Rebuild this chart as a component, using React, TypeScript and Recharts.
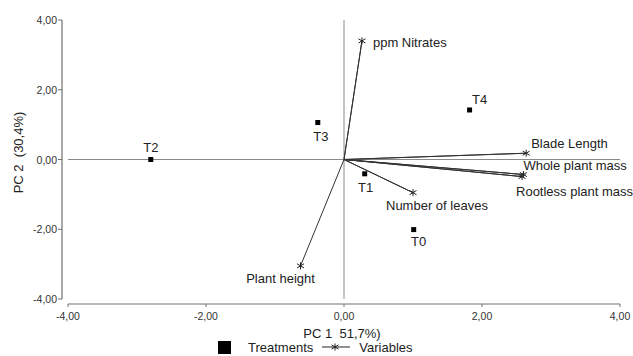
import React from 'react';
import { ScatterChart, Scatter, XAxis, YAxis, ReferenceLine, Legend } from 'recharts';

// PCA scores of the treatments
const treatmentNames = ['T0', 'T1', 'T2', 'T3', 'T4'];
const treatmentPC1 = [1.01, 0.3, -2.8, -0.38, 1.82];
const treatmentPC2 = [-2.01, -0.41, 0.0, 1.06, 1.42];

// PCA loadings of the variables (drawn as vectors from the origin)
const variableNames = [
  'ppm Nitrates',
  'Blade Length',
  'Whole plant mass',
  'Rootless plant mass',
  'Number of leaves',
  'Plant height',
];
const variablePC1 = [0.26, 2.64, 2.6, 2.58, 1.0, -0.63];
const variablePC2 = [3.4, 0.18, -0.43, -0.49, -0.95, -3.05];

const axisTicks = [-4, -2, 0, 2, 4];

// label placement (dx, dy, anchor) relative to each mark
const labelPlacement: Record<string, [number, number, 'start' | 'middle' | 'end']> = {
  T0: [5, 12, 'middle'],
  T1: [1, 14, 'middle'],
  T2: [0, -12, 'middle'],
  T3: [3, 14, 'middle'],
  T4: [10, -10, 'middle'],
  'ppm Nitrates': [11, 2, 'start'],
  'Blade Length': [5, -10, 'start'],
  'Whole plant mass': [0, -9, 'start'],
  'Rootless plant mass': [-6, 15, 'start'],
  'Number of leaves': [-27, 13, 'start'],
  'Plant height': [-20, 13, 'middle'],
};

const FONT = '"Liberation Sans", Arial, sans-serif';
const TEXT = '#222';

const treatmentData = treatmentNames.map((name, i) => ({
  name,
  x: treatmentPC1[i],
  y: treatmentPC2[i],
}));

// origin -> variable -> origin -> next variable ...
const vectorData = variableNames.flatMap((name, i) => [
  { name: '', x: 0, y: 0 },
  { name, x: variablePC1[i], y: variablePC2[i] },
]);

const fmt = (v: number) => v.toFixed(2).replace('.', ',');

const Star = ({ x, y, r = 3.5 }: { x: number; y: number; r?: number }) => (
  <g stroke="#222" strokeWidth={1}>
    <line x1={x} y1={y - r} x2={x} y2={y + r} />
    <line x1={x - r} y1={y - r * 0.6} x2={x + r} y2={y + r * 0.6} />
    <line x1={x - r} y1={y + r * 0.6} x2={x + r} y2={y - r * 0.6} />
  </g>
);

const PointLabel = ({ x, y, name }: { x: number; y: number; name: string }) => {
  const [dx, dy, anchor] = labelPlacement[name] || [0, 0, 'middle'];
  return (
    <text
      x={x + dx}
      y={y + dy}
      textAnchor={anchor}
      dominantBaseline="central"
      fontSize={13}
      fontFamily={FONT}
      fill={TEXT}
    >
      {name}
    </text>
  );
};

const TreatmentShape = (props: any) => {
  const { cx, cy, payload } = props;
  return (
    <g>
      <rect x={cx - 2.5} y={cy - 2.5} width={5} height={5} fill="#000" />
      <PointLabel x={cx} y={cy} name={payload.name} />
    </g>
  );
};

const VectorShape = (props: any) => {
  const { cx, cy, payload } = props;
  if (!payload.name) return <g />;
  return (
    <g>
      <Star x={cx} y={cy} />
      <PointLabel x={cx} y={cy} name={payload.name} />
    </g>
  );
};

const YTick = (props: any) => {
  const { x, y, payload } = props;
  return (
    <g>
      <line x1={x - 10} y1={y} x2={x - 6} y2={y} stroke="#707070" />
      <text x={x - 11} y={y} textAnchor="end" dominantBaseline="central" fontSize={10.5} fontFamily={FONT} fill="#333">
        {fmt(payload.value)}
      </text>
    </g>
  );
};

const XTick = (props: any) => {
  const { x, y, payload } = props;
  return (
    <g>
      <line x1={x} y1={y + 5} x2={x} y2={y + 8} stroke="#707070" />
      <text x={x} y={y + 16.5} textAnchor="middle" dominantBaseline="central" fontSize={10.5} fontFamily={FONT} fill="#333">
        {fmt(payload.value)}
      </text>
    </g>
  );
};

const XTitle = (props: any) => {
  const { viewBox } = props;
  return (
    <text
      x={viewBox.x + viewBox.width / 2 - 2}
      y={viewBox.y + 34}
      textAnchor="middle"
      dominantBaseline="central"
      fontSize={13}
      fontFamily={FONT}
      fill={TEXT}
      style={{ whiteSpace: 'pre' }}
    >
      {'PC 1  51,7%)'}
    </text>
  );
};

const YTitle = (props: any) => {
  const { viewBox } = props;
  const cx = 18;
  const cy = viewBox.y + viewBox.height / 2 - 7;
  return (
    <text
      x={cx}
      y={cy}
      transform={`rotate(-90 ${cx} ${cy})`}
      textAnchor="middle"
      dominantBaseline="central"
      fontSize={13}
      fontFamily={FONT}
      fill={TEXT}
      style={{ whiteSpace: 'pre' }}
    >
      {'PC 2  (30,4%)'}
    </text>
  );
};

const LegendContent = () => (
  <div
    style={{
      display: 'flex',
      alignItems: 'center',
      height: 22,
      paddingLeft: 218,
      fontFamily: FONT,
      fontSize: 13,
      color: TEXT,
      transform: 'translateY(2px)',
    }}
  >
    <span style={{ display: 'inline-block', width: 13, height: 13, background: '#000' }} />
    <span style={{ marginLeft: 17 }}>Treatments</span>
    <svg width={28} height={14} style={{ marginLeft: 9 }}>
      <line x1={0} y1={7} x2={28} y2={7} stroke="#222" />
      <Star x={13} y={7} />
    </svg>
    <span style={{ marginLeft: 9 }}>Variables</span>
  </div>
);

export default function App() {
  return (
    <div style={{ width: 633, height: 356 }}>
      <style>{'body{margin:0}'}</style>
      <ScatterChart width={633} height={356} margin={{ top: 20, right: 13, bottom: 0, left: 0 }}>
        <XAxis
          type="number"
          dataKey="x"
          domain={[-4, 4]}
          ticks={axisTicks}
          height={35}
          tickSize={0}
          tickMargin={0}
          tick={<XTick />}
          axisLine={{ stroke: '#707070', strokeWidth: 1.2, transform: 'translate(0 5)' } as any}
          label={{ content: <XTitle /> } as any}
        />
        <YAxis
          type="number"
          dataKey="y"
          domain={[-4, 4]}
          ticks={axisTicks}
          width={68}
          tickSize={0}
          tickMargin={0}
          tick={<YTick />}
          axisLine={{ stroke: '#707070', strokeWidth: 1.2, transform: 'translate(-6 0)' } as any}
          label={{ content: <YTitle /> } as any}
        />
        <ReferenceLine x={0} stroke="#8a8a8a" strokeWidth={1} />
        <ReferenceLine y={0} stroke="#8a8a8a" strokeWidth={1} />
        <Scatter
          name="Variables"
          data={vectorData}
          line={{ stroke: '#333', strokeWidth: 1 }}
          lineType="joint"
          shape={<VectorShape />}
          isAnimationActive={false}
        />
        <Scatter name="Treatments" data={treatmentData} shape={<TreatmentShape />} isAnimationActive={false} />
        <Legend verticalAlign="bottom" wrapperStyle={{ left: 0, width: 633 }} content={<LegendContent />} />
      </ScatterChart>
    </div>
  );
}
